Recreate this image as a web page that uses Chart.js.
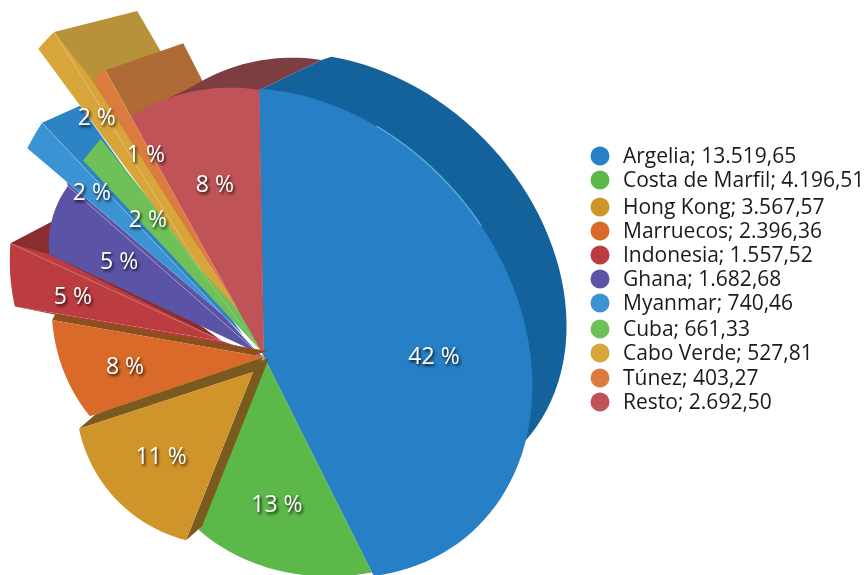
<!DOCTYPE html>
<html>
<head>
<meta charset="utf-8">
<title>Pie</title>
<script src="https://cdn.jsdelivr.net/npm/chart.js@4"></script>
<style>
  html, body { margin: 0; background: #fff; }
  #wrap { width: 868px; height: 575px; }
</style>
</head>
<body>
<div id="wrap"><canvas id="pie" width="868" height="575"></canvas></div>
<script>
const categories = ['Argelia', 'Costa de Marfil', 'Hong Kong', 'Marruecos', 'Indonesia', 'Ghana', 'Myanmar', 'Cuba', 'Cabo Verde', 'Túnez', 'Resto'];
const values = [13519.65, 4196.51, 3567.57, 2396.36, 1557.52, 1682.68, 740.46, 661.33, 527.81, 403.27, 2692.50];
const valueLabels = ['13.519,65', '4.196,51', '3.567,57', '2.396,36', '1.557,52', '1.682,68', '740,46', '661,33', '527,81', '403,27', '2.692,50'];

// Colours: top face, side wall
const faceColors = ['#277fc5', '#5cb848', '#d0952a', '#d96a2a', '#bb3d40', '#5b54a6', '#3c93d4', '#6fc058', '#d8a53a', '#dc7b3e', '#c05358'];
const wallColors = ['#14629b', null, '#7a5a1e', '#8d4f1d', '#8a2c30', null, '#2d84c4', null, '#b8923a', '#b06a35', '#7d3e42'];

// Fake 3D look: how each slice is pulled away from the pie centre
const tipShift = [[0, 0], [0, 0], [-11, 15], [0, 0], [-42, -16], [-6, -4], [-41, -42], [-2, -5], [-63, -87], [-26, -47], [0, 0]];
const turn = [1, 2, 8.06, 13.26, 12.5, 10.4, 7.03, 5.5, 4.85, 2.94, 0.95];
const spread = [1.0135, 1, 1.249, 1.059, 0.872, 0.844, 0.755, 0.792, 0.79, 0.749, 0.939];
const radiusFrom = [0, 241, 181, 184, 210, 231, 257, 262, 274.6, 272, 275];
const radiusTo = [0, 185, 183, 215, 233, 253, 264, 267, 279.7, 274, 267];
const bow = [0, 0, 5, 1, 0, 4, 0, 0, 0, 0, 4];
const wallOffset = [null, null, [16, -14], [3, -6], [44, -23], null, [38, -17], null, [83, -21], [78, -27], [62, -30]];
const wallTail = [null, null, null, null, [0, 0], null, [20, 20], null, [-13, -172], [-13, -185], null];

// Labels: angle from the top, distance from the pie centre
const labelAngle = [90.3, 175, 225.8, 265.9, 287.2, 303, 313.6, 319.7, 325, 329.7, 344];
const labelRadius = [170, 148.6, 143.6, 139.4, 200, 172.8, 237.7, 179.5, 291.6, 234, 178];

// Legend rows
const legendRows = [156, 180, 207, 231, 255, 279, 303, 329, 353, 378, 402];

const blueRim = { dx: 33, dy: -24, a: 265, b: 212, rot: 50 * Math.PI / 180 };
const blueBack = { dx: 82, dy: -83, a: 245, b: 193, rot: Math.PI / 4, from: -132, to: 3 };

const total = values.reduce((s, v) => s + v, 0);

function rayToEllipse(tx, ty, dirX, dirY, cx, cy, e) {
    const c = Math.cos(e.rot), s = Math.sin(e.rot);
    const qx = tx - cx, qy = ty - cy;
    const u = qx * c + qy * s, v = -qx * s + qy * c;
    const du = dirX * c + dirY * s, dv = -dirX * s + dirY * c;
    const A = du * du / (e.a * e.a) + dv * dv / (e.b * e.b);
    const B = 2 * (u * du / (e.a * e.a) + v * dv / (e.b * e.b));
    const C = u * u / (e.a * e.a) + v * v / (e.b * e.b) - 1;
    return (-B + Math.sqrt(B * B - 4 * A * C)) / (2 * A);
}

// Turn the arc the library laid out into the tilted slice of the picture
function sliceShape(arc, i) {
    const mid = (arc.startAngle + arc.endAngle) / 2;
    const tip = { x: arc.x + tipShift[i][0], y: arc.y + tipShift[i][1] };
    const rim = [];
    const steps = i === 0 ? 80 : 24;
    for (let k = 0; k <= steps; k++) {
        const t = k / steps;
        const raw = arc.startAngle + (arc.endAngle - arc.startAngle) * t;
        const ang = mid + turn[i] * Math.PI / 180 + spread[i] * (raw - mid);
        const dx = Math.cos(ang), dy = Math.sin(ang);
        let r;
        if (i === 0) {
            r = rayToEllipse(tip.x, tip.y, dx, dy, arc.x + blueRim.dx, arc.y + blueRim.dy, blueRim);
        } else {
            r = radiusFrom[i] + (radiusTo[i] - radiusFrom[i]) * t + bow[i] * 4 * t * (1 - t);
        }
        rim.push({ x: tip.x + r * dx, y: tip.y + r * dy });
    }
    return { tip, rim, first: rim[0], last: rim[rim.length - 1] };
}

function drawFace(ctx, shape, i) {
    ctx.beginPath();
    ctx.moveTo(shape.tip.x, shape.tip.y);
    shape.rim.forEach(p => ctx.lineTo(p.x, p.y));
    ctx.closePath();
    ctx.fillStyle = faceColors[i];
    ctx.fill();
}

function drawEdgeLight(ctx, shape, alpha) {
    ctx.beginPath();
    ctx.moveTo(shape.tip.x, shape.tip.y);
    ctx.lineTo(shape.last.x, shape.last.y);
    ctx.strokeStyle = 'rgba(255,255,255,' + alpha + ')';
    ctx.lineWidth = 1;
    ctx.stroke();
}

// Small filler between slices whose tips do not meet
function fillGap(ctx, color, pts) {
    ctx.beginPath();
    pts.forEach((p, k) => k ? ctx.lineTo(p.x, p.y) : ctx.moveTo(p.x, p.y));
    ctx.closePath();
    ctx.fillStyle = color;
    ctx.fill();
}

function drawWall(ctx, arc, shape, i, neighbour) {
    ctx.fillStyle = wallColors[i];
    ctx.beginPath();
    const off = wallOffset[i];
    const first = shape.first, last = shape.last;
    if (i === 0) {
        const backOff = wallOffset[10];
        ctx.moveTo(shape.tip.x, shape.tip.y);
        ctx.lineTo(first.x, first.y);
        ctx.lineTo(neighbour.last.x, neighbour.last.y);
        ctx.lineTo(neighbour.last.x + backOff[0], neighbour.last.y + backOff[1]);
        ctx.ellipse(arc.x + blueBack.dx, arc.y + blueBack.dy, blueBack.a, blueBack.b, blueBack.rot,
            blueBack.from * Math.PI / 180, blueBack.to * Math.PI / 180);
    } else if (i === 10) {
        ctx.moveTo(first.x, first.y);
        shape.rim.forEach(p => ctx.lineTo(p.x + off[0], p.y + off[1]));
        ctx.lineTo(last.x, last.y);
    } else if (wallTail[i]) {
        ctx.moveTo(shape.tip.x, shape.tip.y);
        ctx.lineTo(last.x, last.y);
        ctx.lineTo(last.x + off[0], last.y + off[1]);
        ctx.lineTo(shape.tip.x + wallTail[i][0], shape.tip.y + wallTail[i][1]);
    } else {
        ctx.moveTo(first.x, first.y);
        ctx.lineTo(first.x + off[0], first.y + off[1]);
        ctx.lineTo(shape.tip.x + off[0], shape.tip.y + off[1]);
        ctx.lineTo(last.x + off[0], last.y + off[1]);
        ctx.lineTo(last.x, last.y);
        ctx.lineTo(shape.tip.x, shape.tip.y);
    }
    ctx.closePath();
    ctx.fill();
}

const fakePie3d = {
    id: 'fakePie3d',
    beforeDatasetDraw(chart, args) {
        const ctx = chart.ctx;
        const arcs = args.meta.data;
        const s = arcs.map((arc, i) => sliceShape(arc, i));
        const hub = { x: arcs[0].x, y: arcs[0].y };
        ctx.save();
        // back walls first, then faces from the back of the fan to the front
        [8, 9, 10].forEach(i => drawWall(ctx, arcs[i], s[i], i));
        drawWall(ctx, arcs[0], s[0], 0, s[10]);
        drawWall(ctx, arcs[4], s[4], 4);
        [0, 10, 4].forEach(i => drawFace(ctx, s[i], i));
        fillGap(ctx, faceColors[4], [s[4].last, s[5].first, s[4].tip]);
        fillGap(ctx, faceColors[4], [s[4].first, s[4].tip, hub]);
        drawEdgeLight(ctx, s[4], 0.22);
        fillGap(ctx, faceColors[5], [s[4].tip, hub, s[5].tip]);
        const onMyanmarEdge = {
            x: s[6].first.x + (s[6].tip.x - s[6].first.x) * 0.2,
            y: s[6].first.y + (s[6].tip.y - s[6].first.y) * 0.2
        };
        fillGap(ctx, faceColors[5], [s[5].last, onMyanmarEdge, s[6].tip, s[5].tip]);
        drawFace(ctx, s[5], 5);
        drawEdgeLight(ctx, s[5], 0.22);
        drawWall(ctx, arcs[6], s[6], 6);
        drawFace(ctx, s[6], 6);
        drawEdgeLight(ctx, s[6], 0.22);
        fillGap(ctx, faceColors[7], [s[7].tip, s[7].last, s[9].tip]);
        drawFace(ctx, s[7], 7);
        fillGap(ctx, faceColors[8], [s[8].tip, s[8].last, s[9].first, s[9].tip]);
        drawFace(ctx, s[8], 8);
        drawEdgeLight(ctx, s[8], 0.22);
        drawFace(ctx, s[9], 9);
        drawEdgeLight(ctx, s[9], 0.22);
        fillGap(ctx, wallColors[2], [s[3].first, hub, s[2].tip]);
        drawWall(ctx, arcs[3], s[3], 3);
        drawFace(ctx, s[3], 3);
        drawFace(ctx, s[1], 1);
        drawWall(ctx, arcs[2], s[2], 2);
        drawFace(ctx, s[2], 2);
        // bright glint on the big slice
        ctx.beginPath();
        s[0].rim.slice(14, 32).forEach((p, k) => k ? ctx.lineTo(p.x, p.y) : ctx.moveTo(p.x, p.y));
        ctx.strokeStyle = 'rgba(120,210,245,0.6)';
        ctx.lineWidth = 1.5;
        ctx.stroke();
        ctx.restore();
        return false;
    },
    afterDatasetsDraw(chart) {
        const ctx = chart.ctx;
        const arc0 = chart.getDatasetMeta(0).data[0];
        ctx.save();
        ctx.textAlign = 'center';
        ctx.textBaseline = 'middle';
        ctx.font = '23px "Open Sans"';
        ctx.fillStyle = '#fff';
        ctx.shadowColor = 'rgba(0,0,0,0.85)';
        ctx.shadowBlur = 3;
        ctx.shadowOffsetX = 1.5;
        ctx.shadowOffsetY = 2;
        values.forEach((v, i) => {
            const ang = (labelAngle[i] - 90) * Math.PI / 180;
            const x = arc0.x + labelRadius[i] * Math.cos(ang);
            const y = arc0.y + labelRadius[i] * Math.sin(ang);
            ctx.fillText(Math.round(v / total * 100) + ' %', x, y);
        });
        ctx.restore();

        ctx.save();
        ctx.textBaseline = 'middle';
        ctx.textAlign = 'left';
        ctx.font = '21px "Open Sans"';
        categories.forEach((name, i) => {
            ctx.beginPath();
            ctx.arc(600, legendRows[i], 9.5, 0, Math.PI * 2);
            ctx.fillStyle = faceColors[i];
            ctx.fill();
            ctx.fillStyle = '#1a1a1a';
            ctx.fillText(name + '; ' + valueLabels[i], 623, legendRows[i] + 1.5);
        });
        ctx.restore();
    }
};

new Chart(document.getElementById('pie'), {
    type: 'pie',
    data: {
        labels: categories,
        datasets: [{ data: values, backgroundColor: faceColors, borderWidth: 0 }]
    },
    options: {
        responsive: false,
        animation: false,
        rotation: -1,
        layout: { padding: { top: 139, right: 340 } },
        plugins: { legend: { display: false }, tooltip: { enabled: false } }
    },
    plugins: [fakePie3d]
});
</script>
</body>
</html>
